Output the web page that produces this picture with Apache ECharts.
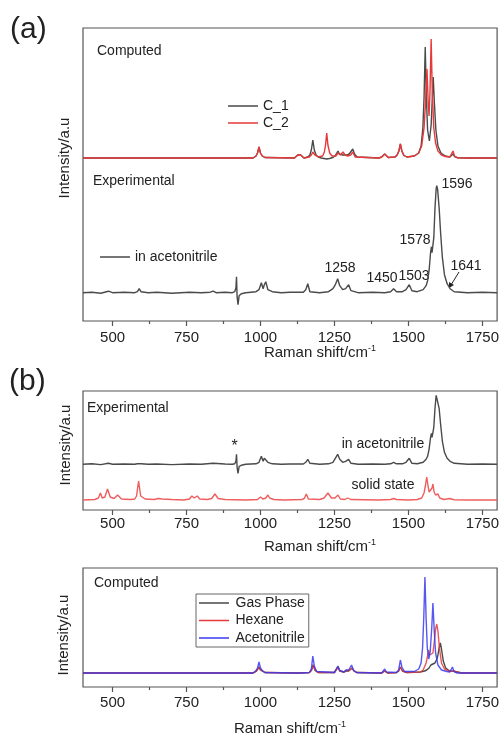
<!DOCTYPE html>
<html><head><meta charset="utf-8">
<script src="https://cdn.jsdelivr.net/npm/echarts@6/dist/echarts.min.js"></script>
<style>html,body{margin:0;padding:0;background:#fff}#c{width:502px;height:736px}</style>
</head><body><div id="c"></div>
<script>
// ---------- tick values ----------
const xMajorTicks = [500, 750, 1000, 1250, 1500, 1750];
const xMinorTicks = [625, 875, 1125, 1375, 1625];

// ---------- (a) computed ----------
const aC1X = [400,480,485,490,560,565,570,680,685,690,975,985,990,995,1000,1006,1015,1115,1121,1126,1131,1136,1141,1147,1160,1167,1172,1177,1182,1188,1196,1205,1215,1224,1233,1245,1252,1257,1262,1267,1273,1278,1285,1293,1300,1306,1312,1318,1326,1400,1410,1416,1420,1425,1432,1455,1462,1468,1473,1478,1485,1495,1520,1535,1543,1549,1553,1557,1561,1565,1571,1577,1581,1584,1588,1593,1600,1610,1625,1640,1646,1651,1656,1665,1700,1800];
const aC1Y = [0,0,0.8,0,0,1,0,0,0.6,0,0,2,5,11,5,2,0.5,0,1,3,1,3,1,0,1,3,8,18,8,3,1,0,-0.5,-1,-0.5,0.5,2,4,7,4,2.5,3,3,3,4,6,9,4,1,0,1,2,4,2,0.5,1,3,7,14,7,2.5,1,2,5,12,30,60,111,60,28,17,33,60,81,55,28,12,5,2,1,2,4,1.5,0.3,0,0];
const aC2X = [400,480,485,490,560,565,570,680,685,690,975,985,990,995,1000,1006,1015,1115,1121,1126,1131,1136,1141,1147,1165,1172,1177,1184,1195,1210,1216,1220,1224,1228,1234,1242,1255,1262,1270,1279,1286,1295,1305,1312,1320,1400,1410,1416,1420,1425,1432,1455,1462,1468,1473,1478,1485,1495,1520,1535,1545,1553,1558,1563,1567,1570,1573,1577,1581,1586,1592,1600,1612,1625,1640,1646,1651,1656,1665,1700,1800];
const aC2Y = [0,0,0.8,0,0,1,0,0,0.6,0,0,2,5,11,5,2,0.5,0,1,3,1,3,1,0,1,3,6,3,1,2,6,13,25,13,5,2,2,5,3,6,3,2,3,6,1,0,1,2,4,2,0.5,1,3,7,14,7,2.5,1,2,5,12,30,55,89,55,42,65,119,65,30,15,7,3,1.5,1,3,7,2,0.3,0,0];

// ---------- (a) experimental, in acetonitrile ----------
const aExpX = [400,430,460,486,500,540,575,584,590,596,620,650,700,760,800,830,840,850,880,905,913,917,919,921,924,928,935,950,985,995,1003,1009,1013,1018,1025,1040,1070,1100,1145,1153,1160,1167,1200,1230,1245,1253,1261,1268,1278,1288,1298,1306,1330,1380,1420,1440,1450,1460,1480,1492,1503,1512,1530,1550,1560,1565,1570,1575,1578,1580,1582,1586,1590,1594,1596,1599,1604,1609,1615,1622,1631,1641,1655,1700,1750,1800];
const aExpY = [0,0.5,-0.5,1.5,0,0.5,0,1,4,1,0,0.5,-0.5,0.5,0,0.5,1.5,0,0.5,0,1,5,16,-4,-12,-3,-1,0,1,3,10,4,8,11,3,1,0,0.5,0.5,3,9,1,0,1,4,8,14,7,3,4,8,2,0,0.5,0,1,4,1,1,3,8,2,1,3,7,12,22,40,46,40,38,55,85,104,107,103,85,60,35,18,9,4,1,0,0.5,0];

// ---------- (b) experimental ----------
const bAceX = [400,430,460,486,500,540,575,584,590,596,620,650,700,760,800,840,880,905,913,917,919,921,924,928,935,950,985,995,1003,1009,1013,1018,1025,1040,1070,1100,1145,1153,1160,1167,1200,1230,1245,1253,1261,1268,1278,1288,1298,1306,1330,1380,1420,1440,1450,1460,1480,1492,1503,1512,1530,1550,1560,1565,1570,1575,1578,1580,1582,1586,1590,1594,1596,1599,1604,1609,1615,1622,1631,1641,1655,1700,1750,1800];
const bAceY = [0,0.5,-0.3,1,0,0.3,0,0.5,2,0.5,0,0.3,-0.3,0.3,0,1,0.3,0,0.5,3,10,-3,-9,-2,-1,0,0.5,2,8,3,6,8,2,0.5,0,0.3,0.3,2,5,1,0,0.5,2,6,10,5,2,3,5,1,0,0.3,0,0.5,2,0.5,0.5,2,6,1,0.5,2,5,8,15,27,31,27,26,37,56,69,71,68,56,40,23,12,6,3,1,0,0.3,0];
const bSolX = [400,440,452,459,465,474,483,492,505,517,530,560,575,581,588,595,610,640,655,661,668,700,740,760,768,776,786,795,820,835,846,857,880,950,990,1000,1008,1018,1025,1031,1037,1045,1080,1140,1148,1155,1162,1200,1215,1228,1240,1252,1262,1270,1285,1295,1305,1400,1440,1450,1460,1500,1530,1545,1553,1558,1562,1566,1570,1575,1580,1583,1587,1592,1596,1600,1606,1620,1640,1655,1700,1800];
const bSolY = [0,0.5,2,7,2,3,11,3,1.5,5,1,0.5,1,4,19,4,1,0.5,1.5,3,1,0.5,0,1,4,2,4,1,0.5,1.5,6,1.5,0.5,0,0.5,3,1,2,5,2,3,0.5,0,0.5,1.5,6,1,0.5,2,7,2,2,5,1,0.5,2,0.5,0,0.5,1.5,0.5,0,0.5,2,7,15,23,15,8,8,12,16,8,5,5,6,2,0.5,1.5,0.3,0,0];

// ---------- (b) computed ----------
const gasX = [400,560,565,570,975,985,990,995,1000,1006,1015,1120,1126,1132,1165,1172,1178,1185,1195,1250,1256,1262,1268,1282,1290,1298,1304,1310,1316,1325,1410,1420,1430,1460,1467,1473,1480,1495,1540,1555,1562,1570,1576,1582,1590,1598,1604,1608,1612,1618,1626,1640,1645,1651,1657,1680,1800];
const gasY = [0,0,0.8,0,0,1.5,3,6,3,1.5,0.5,0,1.5,0,0.5,2.5,8,2.5,0.5,0.5,2,6,2,1,2,2,3,5,2,0.5,0,2,0,0.5,2,6,2,0.5,1,2,3,5,8,8,10,15,25,30,24,12,5,2,1,2,0.5,0,0];
const hexX = [400,560,565,570,975,985,990,995,1000,1006,1015,1120,1126,1132,1165,1172,1178,1185,1195,1250,1256,1262,1268,1282,1290,1298,1304,1310,1316,1325,1410,1420,1430,1460,1467,1473,1480,1495,1540,1550,1560,1565,1568,1572,1577,1583,1588,1592,1596,1600,1605,1612,1622,1640,1645,1651,1657,1680,1800];
const hexY = [0,0,0.8,0,0,1.5,3,6,3,1.5,0.5,0,1.5,0,0.5,2.5,8,2.5,0.5,0.5,2,6,2,1,3,2,3,5,2,0.5,0,2,0,0.5,2,6,2,0.5,1,3,10,17,23,18,16,20,32,44,49,42,25,10,4,1.5,1,2,0.5,0,0];
const aceX = [400,560,565,570,975,985,990,995,1000,1006,1015,1120,1126,1132,1165,1172,1177,1182,1190,1250,1256,1262,1268,1282,1290,1298,1303,1308,1314,1325,1410,1415,1420,1426,1460,1467,1473,1478,1487,1520,1535,1543,1548,1552,1556,1560,1564,1569,1574,1579,1583,1587,1592,1600,1612,1630,1640,1645,1649,1654,1665,1800];
const aceY = [0,0,0.8,0,0,2.5,5,11,5,2.5,0.5,0,2,0,0.5,4,17,7,1.5,0.5,2.5,7,2.5,1,3,3,5,8,3,0.5,0,1,4,1,0.5,3,13,6,1.5,1.5,4,10,25,55,96,55,25,14,22,45,70,45,20,8,3,1.5,1,2,6,1.5,0,0];

// ---------- build ----------
const pair = (xs, ys, off) => xs.map((x, i) => [x, ys[i] + off]);
const GRAY = '#4a4a4a', RED = '#e63a3a', RED2 = '#ef5e5e', BLUE = '#3a3af0';
const FONT = '"Liberation Sans", Arial, sans-serif';
const LW = 1.4;

const grids = [
  {left: 83, top: 28, width: 415, height: 293},
  {left: 83, top: 391, width: 415, height: 119},
  {left: 83, top: 568, width: 415, height: 119}
].map(g => Object.assign(g, {show: true, borderColor: '#555', borderWidth: 1.2, backgroundColor: 'transparent'}));

const labelMargins = [9, 6, 8];
const xAxes = [];
grids.forEach((g, i) => {
  xAxes.push({
    type: 'value', gridIndex: i, min: 400, max: 1800, position: 'bottom',
    axisLine: {show: false}, splitLine: {show: false},
    axisTick: {show: true, inside: false, length: 5, customValues: xMajorTicks, lineStyle: {color: '#555', width: 1.2}},
    axisLabel: {show: true, customValues: xMajorTicks, margin: labelMargins[i], fontSize: 15, color: '#222', fontFamily: FONT, formatter: v => String(v)}
  });
  xAxes.push({
    type: 'value', gridIndex: i, min: 400, max: 1800, position: 'bottom',
    axisLine: {show: false}, splitLine: {show: false},
    axisTick: {show: true, inside: false, length: 3, customValues: xMinorTicks, lineStyle: {color: '#555', width: 1.2}},
    axisLabel: {show: false}
  });
});
const yAxes = [
  {type: 'value', gridIndex: 0, min: 0, max: 293, show: false},
  {type: 'value', gridIndex: 1, min: 0, max: 119, show: false},
  {type: 'value', gridIndex: 2, min: 0, max: 119, show: false}
];

const line = (name, data, color, xi, yi, z, opacity) => ({
  name, type: 'line', data, xAxisIndex: xi, yAxisIndex: yi, symbol: 'none', z: z || 2,
  lineStyle: {color, width: LW, opacity: opacity == null ? 1 : opacity}, itemStyle: {color},
  animation: false, silent: true
});

const series = [
  line('C_1', pair(aC1X, aC1Y, 163), GRAY, 0, 0, 2),
  line('C_2', pair(aC2X, aC2Y, 163), RED, 0, 0, 3),
  line('in acetonitrile', pair(aExpX, aExpY, 28.3), GRAY, 0, 0, 2),
  line('acetonitrile (b)', pair(bAceX, bAceY, 45.7), GRAY, 2, 1, 2),
  line('solid state', pair(bSolX, bSolY, 10), RED2, 2, 1, 2),
  line('Gas Phase', pair(gasX, gasY, 14), GRAY, 4, 2, 2),
  line('Hexane', pair(hexX, hexY, 14), RED, 4, 2, 3, 0.85),
  line('Acetonitrile', pair(aceX, aceY, 14), BLUE, 4, 2, 4, 0.85)
];

// thin horizontal bar icon, kept at full 30x14 box by two tiny corner specks
const lineIcon = 'path://M0,0 L0.01,0 L0.01,0.01 Z M0,6.2 L30,6.2 L30,7.8 L0,7.8 Z M29.99,14 L30,14 L30,13.99 Z';
const legTxt = {fontSize: 14, color: '#222', fontFamily: FONT};
const legends = [
  {data: ['C_1', 'C_2'], left: 228, top: 99, orient: 'vertical', icon: lineIcon, itemWidth: 30, itemHeight: 14, itemGap: 3, textStyle: legTxt, selectedMode: false, padding: 0},
  {data: ['in acetonitrile'], left: 100, top: 250, orient: 'vertical', icon: lineIcon, itemWidth: 30, itemHeight: 14, textStyle: legTxt, selectedMode: false, padding: 0},
  {data: ['Gas Phase', 'Hexane', 'Acetonitrile'], left: 196, top: 594, orient: 'vertical', icon: lineIcon, itemWidth: 33, itemHeight: 14, itemGap: 3.5, textStyle: legTxt, selectedMode: false, padding: [2, 4, 2, 3], borderColor: '#666', borderWidth: 1}
];

const txt = (text, x, y, size) => ({
  type: 'text', x, y,
  style: {text, fontSize: size, fill: '#222', fontFamily: FONT, textAlign: 'left', textVerticalAlign: 'middle'}
});
const ctxt = (text, x, y, size) => ({type: 'text', x, y, style: {text, fontSize: size, fill: '#222', fontFamily: FONT, textAlign: 'center', textVerticalAlign: 'middle'}});
const rtxt = (text, x, y) => ({type: 'text', x, y, rotation: Math.PI / 2, style: {text, fontSize: 15, fill: '#222', fontFamily: FONT, textAlign: 'center', textVerticalAlign: 'middle'}});
const xTitle = (x, y) => ({
  type: 'text', x, y,
  style: {text: '{m|Raman shift/cm}{s|-1}', rich: {m: {fontSize: 15, fill: '#222', fontFamily: FONT}, s: {fontSize: 9, fill: '#222', fontFamily: FONT, verticalAlign: 'top', padding: [0, 0, 8, 0]}}, textAlign: 'center', textVerticalAlign: 'middle'}
});

const graphics = [
  txt('(a)', 10, 30, 30),
  txt('(b)', 9, 382, 30),
  txt('Computed', 97, 51, 14),
  txt('Experimental', 93, 181, 14),
  ctxt('1596', 457, 184, 14),
  ctxt('1578', 415, 240, 14),
  ctxt('1258', 340, 268, 14),
  ctxt('1450', 382, 278, 14),
  ctxt('1503', 414, 276, 14),
  ctxt('1641', 466, 266, 14),
  {type: 'line', shape: {x1: 459, y1: 272, x2: 451, y2: 285}, style: {stroke: '#222', lineWidth: 1}},
  {type: 'polygon', shape: {points: [[449, 288], [449, 282], [454, 285]]}, style: {fill: '#222'}},
  rtxt('Intensity/a.u', 65, 158),
  xTitle(320, 353),
  txt('Experimental', 87, 408, 14),
  ctxt('*', 234.5, 447, 16),
  ctxt('in acetonitrile', 383, 444, 14),
  ctxt('solid state', 383, 485, 14),
  rtxt('Intensity/a.u', 66, 445),
  xTitle(320, 547),
  txt('Computed', 94, 583, 14),
  rtxt('Intensity/a.u', 64, 635),
  xTitle(290, 729)
];

const chart = echarts.init(document.getElementById('c'), null, {renderer: 'canvas'});
chart.setOption({
  animation: false,
  grid: grids, xAxis: xAxes, yAxis: yAxes, series, legend: legends, graphic: graphics
});
</script></body></html>
